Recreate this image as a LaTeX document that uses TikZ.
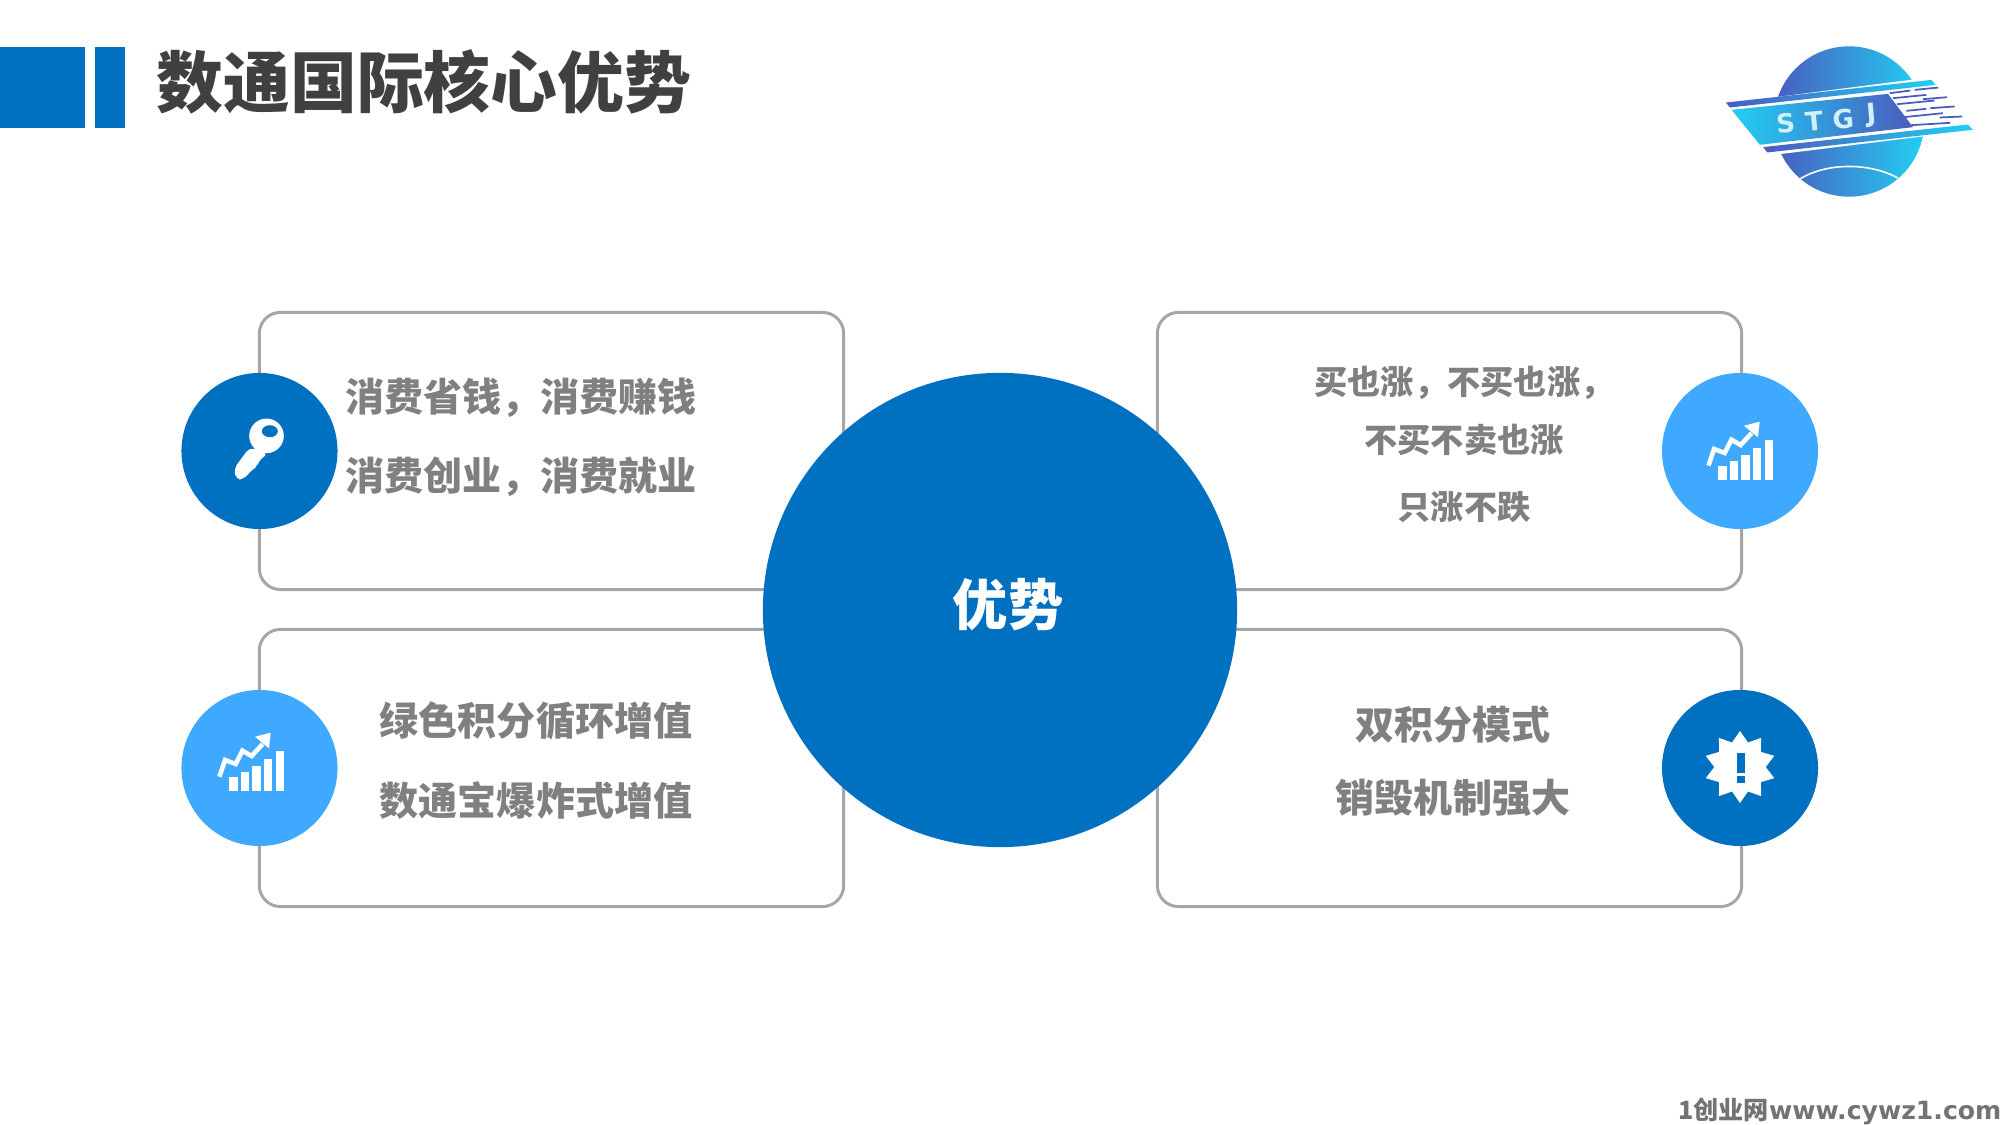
\documentclass[tikz,border=0pt]{standalone}
\usepackage{fontspec}
\setmainfont{Noto Sans CJK SC}
\newfontfamily\webfont{DejaVu Sans}
\usetikzlibrary{shapes.geometric}
\definecolor{darkblue}{HTML}{0070C0}
\definecolor{lightblue}{HTML}{3FA9FF}
\definecolor{logodark}{HTML}{4A5CBE}
\definecolor{logomid}{HTML}{1E88DE}
\definecolor{logocyan}{HTML}{22CFF2}
\newcommand\charticon[1]{%
	\begin{scope}[shift={#1},x=0.00333cm,y=-0.00333cm]
		\foreach \barx/\bartop in {-92/26,-57/12,-23/-7,12/-28,47/-52}
			\fill[white] (\barx,68) rectangle (\barx+25,\bartop);
		\draw[white,line width=1.3pt] (-122,26) -- (-105,-24) -- (-73,-12) -- (-53,-52) -- (-25,-36) -- (8,-72);
		\fill[white] (-15,-94) -- (32,-106) -- (27,-59) -- cycle;
	\end{scope}}
\tikzset{
	framebox/.style={draw=black!35,line width=0.85pt,rounded corners=6pt,minimum width=5.84cm,minimum height=2.77cm,inner sep=0pt},
	badge/.style={circle,minimum size=1.56cm,inner sep=0pt},
	bodytext/.style={font=\fontsize{11.1}{13}\selectfont\bfseries,text=black!50,inner sep=0pt},
	smalltext/.style={font=\fontsize{9.45}{11}\selectfont\bfseries,text=black!50,inner sep=0pt},
	logoletter/.style={font=\webfont\fontsize{7.4}{10}\selectfont\bfseries,text=cyan!18,rotate=5,inner sep=0pt},
	logofade/.style={left color=logodark,middle color=logomid,right color=logocyan}
}
\begin{document}
\begin{tikzpicture}[x=0.01cm,y=-0.01cm]
	\useasboundingbox (0,0) rectangle (2000,1125);

	\fill[darkblue] (0,47) rectangle (85,128);
	\fill[darkblue] (95,47) rectangle (125,128);
	\node (title) [anchor=west,inner sep=0pt,text=black!75,font=\fontsize{19}{22}\selectfont\bfseries] at (156,82) {数通国际核心优势};

	\node (boxtl) [framebox] at (551.5,451) {};
	\node (boxbl) [framebox] at (551.5,768) {};
	\node (boxtr) [framebox] at (1449.5,451) {};
	\node (boxbr) [framebox] at (1449.5,768) {};

	\node (centre) [circle,fill=darkblue,minimum size=4.74cm,inner sep=0pt] at (1000,610) {};
	\node (centrelabel) [text=white,inner sep=0pt,font=\fontsize{15.7}{18}\selectfont\bfseries] at (1008,605) {优势};

	\node (keybadge) [badge,fill=darkblue] at (259.5,451) {};
	\node (chartbadgel) [badge,fill=lightblue] at (259.5,768) {};
	\node (chartbadger) [badge,fill=lightblue] at (1740,451) {};
	\node (burstbadge) [badge,fill=darkblue] at (1740,768) {};

	\node (tl1) [bodytext] at (521,398) {消费省钱，消费赚钱};
	\node (tl2) [bodytext] at (521,477) {消费创业，消费就业};
	\node (bl1) [bodytext] at (536,721) {绿色积分循环增值};
	\node (bl2) [bodytext] at (536,801) {数通宝爆炸式增值};
	\node (tr1) [smalltext] at (1464,383) {买也涨，不买也涨，};
	\node (tr2) [smalltext] at (1464,440) {不买不卖也涨};
	\node (tr3) [smalltext] at (1464,507) {只涨不跌};
	\node (br1) [bodytext] at (1453,725) {双积分模式};
	\node (br2) [bodytext] at (1453,798) {销毁机制强大};

	% key
	\begin{scope}[shift={(170,360)},x=0.00333cm,y=-0.00333cm]
		\fill[white,rounded corners=1.5pt] (240,262) -- (193,325) -- (198,360) -- (222,358) -- (246,330) -- (262,320) -- (268,300) -- (295,282) -- cycle;
		\fill[white] (290,228) circle (52);
		\fill[darkblue] (300,214) ellipse (24 and 18);
	\end{scope}

	\charticon{(260,768)}
	\charticon{(1749,457)}

	% burst
	\node (burst) [star,star points=10,star point ratio=1.4,minimum size=0.72cm,inner sep=0pt,fill=white] at (1740,767) {};
	\fill[darkblue] (1737,753) rectangle (1745,773);
	\fill[darkblue] (1737,776) rectangle (1745,783);

	% logo
	\begin{scope}[shift={(1680,20)},x=0.00333cm,y=-0.00333cm]
		\shade[logofade] (508,305) circle (226);
		\fill[white] (130,252) -- (770,170) -- (890,330) -- (260,408) -- cycle;
		\shade[logofade] (138,248) -- (755,180) -- (768,195) -- (150,263) -- cycle;
		\shade[left color=logocyan,middle color=logomid,right color=logodark] (155,270) -- (625,222) -- (700,322) -- (240,375) -- cycle;
		\shade[logofade] (250,382) -- (865,314) -- (880,330) -- (262,398) -- cycle;
		\foreach \i/\ax/\ay/\bx/\by in {
			0/630/220/692/212,1/705/210/776/203,2/640/235/740/225,3/730/238/802/232,
			4/652/253/765/242,5/680/273/740/267,6/752/265/825/260,7/672/292/790/280,
			8/780/293/848/290,9/695/316/812/309}
			\draw[logodark,line width=0.5pt] (\ax,\ay) -- (\bx,\by);
		\draw[white,line width=0.45pt] (360,478) .. controls (440,428) and (570,428) .. (655,475);
		\node (logos) [logoletter] at (317,310) {S};
		\node (logot) [logoletter] at (403,303) {T};
		\node (logog) [logoletter] at (490,297) {G};
		\node (logoj) [logoletter] at (575,285) {J};
	\end{scope}

	\node (footer) [anchor=east,inner sep=0pt,text=black!55,font=\fontsize{7.15}{9}\selectfont\bfseries] at (2002,1111) {1创业网{\webfont www.cywz1.com}};
\end{tikzpicture}
\end{document}
